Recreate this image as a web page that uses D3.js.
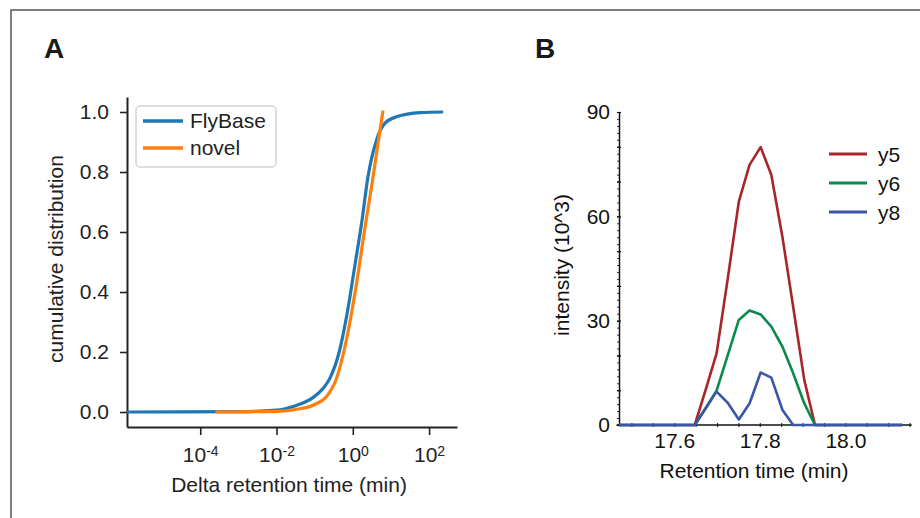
<!DOCTYPE html>
<meta charset="utf-8">
<script src="https://d3js.org/d3.v7.min.js"></script>
<style>
  body { margin: 0; background: #fff; }
  text { font-family: "Liberation Sans", Arial, sans-serif; }
</style>
<div id="chart"></div>
<script>
// ---- panel A: cumulative distribution of delta retention time ----
const flybaseX = [1.2e-6, 1e-3, 0.01, 0.03, 0.09, 0.17, 0.25, 0.45, 0.76, 1.12, 1.7, 2.5, 4.2, 6.9, 14, 58, 234];
const flybaseY = [0, 0.001, 0.006, 0.02, 0.048, 0.08, 0.112, 0.205, 0.35, 0.484, 0.629, 0.784, 0.907, 0.962, 0.984, 0.998, 1.0];
const novelX = [2.5e-4, 0.01, 0.03, 0.1, 0.2, 0.37, 0.68, 1.26, 2.04, 3.1, 4.6, 6.2];
const novelY = [0, 0.002, 0.008, 0.025, 0.05, 0.11, 0.24, 0.43, 0.607, 0.751, 0.896, 1.005];
const ticksA = [1e-4, 1e-2, 1, 1e2];
const tickExpA = ["-4", "-2", "0", "2"];
const cdfTicks = [0, 0.2, 0.4, 0.6, 0.8, 1.0];

// ---- panel B: chromatogram ----
const rtimes = [17.471, 17.648, 17.674, 17.699, 17.725, 17.751, 17.776, 17.802, 17.827, 17.853, 17.878, 17.904, 17.929, 18.133];
const y5 = [0, 0, 10.3, 20.6, 42, 64.2, 74.8, 79.9, 71.9, 54, 34, 12.9, 0, 0];
const y6 = [0, 0, 5, 9.9, 20, 30.2, 32.9, 31.8, 28.3, 22.5, 14.9, 6.2, 0, 0];
const y8 = [0, 0, 4.8, 9.6, 6.4, 1.6, 6.2, 15.1, 13.6, 4.3, 0, 0, 0, 0];
const ionNames = ["y5", "y6", "y8"];
const rtTicks = [17.6, 17.8, 18.0];
const intTicks = [0, 30, 60, 90];

const W = 920, H = 518;
const FS = 21;
const svg = d3.select("#chart").append("svg")
    .attr("width", W).attr("height", H);

// outer frame
svg.append("path")
    .attr("d", "M11,518V10H920")
    .attr("fill", "none").attr("stroke", "#555").attr("stroke-width", 1.5);

// ============ Panel A ============
const xA = d3.scaleLog().domain([1.2e-6, 540]).range([127, 457]);
const yA = d3.scaleLinear().domain([-0.05, 1.05]).range([427, 97]);

svg.append("text").attr("x", 44).attr("y", 58)
    .attr("font-size", 28).attr("font-weight", "bold").attr("fill", "#1a1a1a").text("A");

const axYA = svg.append("g").attr("transform", "translate(127,0)")
    .call(d3.axisLeft(yA).tickValues(cdfTicks).tickFormat(d3.format(".1f"))
        .tickSize(7).tickSizeOuter(0).tickPadding(11));
const axXA = svg.append("g").attr("transform", "translate(0,427)")
    .call(d3.axisBottom(xA).tickValues(ticksA).tickFormat(() => "")
        .tickSize(8).tickSizeOuter(0).tickPadding(12));

// superscript labels 10^n
axXA.selectAll(".tick text").each(function (d, i) {
    const t = d3.select(this).text("");
    t.append("tspan").text("10");
    t.append("tspan").attr("dy", "-0.45em").attr("font-size", 14).text(tickExpA[i]);
});

[axYA, axXA].forEach(ax => {
    ax.select(".domain").attr("stroke", "#222").attr("stroke-width", 2);
    ax.selectAll(".tick line").attr("stroke", "#222").attr("stroke-width", 1.6);
    ax.selectAll(".tick text").attr("font-size", FS).attr("fill", "#222")
        .attr("font-family", "'Liberation Sans', Arial, sans-serif");
});

svg.append("text").attr("x", 289).attr("y", 492).attr("text-anchor", "middle")
    .attr("font-size", FS).attr("fill", "#222").text("Delta retention time (min)");
svg.append("text").attr("transform", "translate(63,259) rotate(-90)")
    .attr("text-anchor", "middle").attr("font-size", FS).attr("fill", "#222")
    .text("cumulative distribution");

const lineA = d3.line().x(d => xA(d[0])).y(d => yA(d[1])).curve(d3.curveMonotoneX);
const seriesA = [
    {name: "FlyBase", color: "#1f77b4", pts: d3.zip(flybaseX, flybaseY)},
    {name: "novel", color: "#ff7f0e", pts: d3.zip(novelX, novelY)}
];
svg.append("g").selectAll("path")
    .data(seriesA)
    .join("path")
    .attr("d", d => lineA(d.pts))
    .attr("fill", "none")
    .attr("stroke", d => d.color)
    .attr("stroke-width", 3.2);

// legend A
const legA = svg.append("g");
legA.append("rect").attr("x", 136).attr("y", 106).attr("width", 140).attr("height", 61)
    .attr("rx", 4).attr("fill", "#fff").attr("fill-opacity", 0.85)
    .attr("stroke", "#d4d4d4").attr("stroke-width", 1.5);
seriesA.forEach((s, i) => {
    const yy = 121 + i * 27;
    legA.append("line").attr("x1", 143).attr("x2", 183).attr("y1", yy).attr("y2", yy)
        .attr("stroke", s.color).attr("stroke-width", 3.5);
    legA.append("text").attr("x", 190).attr("y", yy).attr("dy", "0.33em")
        .attr("font-size", FS).attr("fill", "#222").text(s.name);
});

// ============ Panel B ============
const xB = d3.scaleLinear().domain([17.471, 18.155]).range([619, 911.7]);
const yB = d3.scaleLinear().domain([0, 90]).range([425, 112]);

svg.append("text").attr("x", 535).attr("y", 58)
    .attr("font-size", 28).attr("font-weight", "bold").attr("fill", "#1a1a1a").text("B");

// minor ticks
svg.append("g").attr("transform", "translate(619,0)")
    .call(d3.axisLeft(yB).tickValues(d3.range(0, 91, 2)).tickFormat(() => "").tickSize(2).tickSizeOuter(0))
    .call(g => g.select(".domain").remove())
    .selectAll("line").attr("stroke", "#333").attr("stroke-width", 1);
svg.append("g").attr("transform", "translate(621,0)")
    .call(d3.axisLeft(yB).tickValues(d3.range(0, 91, 10)).tickFormat(() => "").tickSize(4).tickSizeOuter(0))
    .call(g => g.select(".domain").remove())
    .selectAll("line").attr("stroke", "#111").attr("stroke-width", 1.2);
svg.append("g").attr("transform", "translate(0,427)")
    .call(d3.axisTop(xB).tickValues([17.5, 17.55, 17.6, 17.65, 17.7, 17.75, 17.8, 17.85, 17.9, 17.95, 18.0, 18.05, 18.1, 18.15])
        .tickFormat(() => "").tickSize(4).tickSizeOuter(0))
    .call(g => g.select(".domain").remove())
    .selectAll("line").attr("stroke", "#333").attr("stroke-width", 1.2);

const axYB = svg.append("g").attr("transform", "translate(619,0)")
    .call(d3.axisLeft(yB).tickValues(intTicks).tickSize(0).tickPadding(9));
const axXB = svg.append("g").attr("transform", "translate(0,425)")
    .call(d3.axisBottom(xB).tickValues(rtTicks).tickFormat(d3.format(".1f"))
        .tickSize(0).tickPadding(8));
axXB.select(".domain").attr("d", "M616.5,0H911.7");
[axYB, axXB].forEach(ax => {
    ax.select(".domain").attr("stroke", "#111").attr("stroke-width", 1.5);
    ax.selectAll(".tick text").attr("font-size", FS).attr("fill", "#111")
        .attr("font-family", "'Liberation Sans', Arial, sans-serif");
});

svg.append("text").attr("x", 754).attr("y", 478).attr("text-anchor", "middle")
    .attr("font-size", FS).attr("fill", "#111").text("Retention time (min)");
svg.append("text").attr("transform", "translate(569,265) rotate(-90)")
    .attr("text-anchor", "middle").attr("font-size", FS).attr("fill", "#111")
    .text("intensity (10^3)");

const ionColors = ["#a8262b", "#0a8a4c", "#3a56a8"];
const seriesB = [y5, y6, y8].map((vals, i) => ({
    name: ionNames[i], color: ionColors[i], pts: d3.zip(rtimes, vals)
}));
const lineB = d3.line().x(d => xB(d[0])).y(d => yB(d[1]));
svg.append("g").selectAll("path")
    .data(seriesB)
    .join("path")
    .attr("d", d => lineB(d.pts))
    .attr("fill", "none")
    .attr("stroke", d => d.color)
    .attr("stroke-width", 2.6)
    .attr("stroke-linejoin", "round");

// legend B
seriesB.forEach((s, i) => {
    const yy = 154 + i * 29;
    svg.append("line").attr("x1", 829).attr("x2", 867).attr("y1", yy).attr("y2", yy)
        .attr("stroke", s.color).attr("stroke-width", 3);
    svg.append("text").attr("x", 878).attr("y", yy).attr("dy", "0.36em")
        .attr("font-size", FS).attr("fill", "#111").text(s.name);
});
</script>
